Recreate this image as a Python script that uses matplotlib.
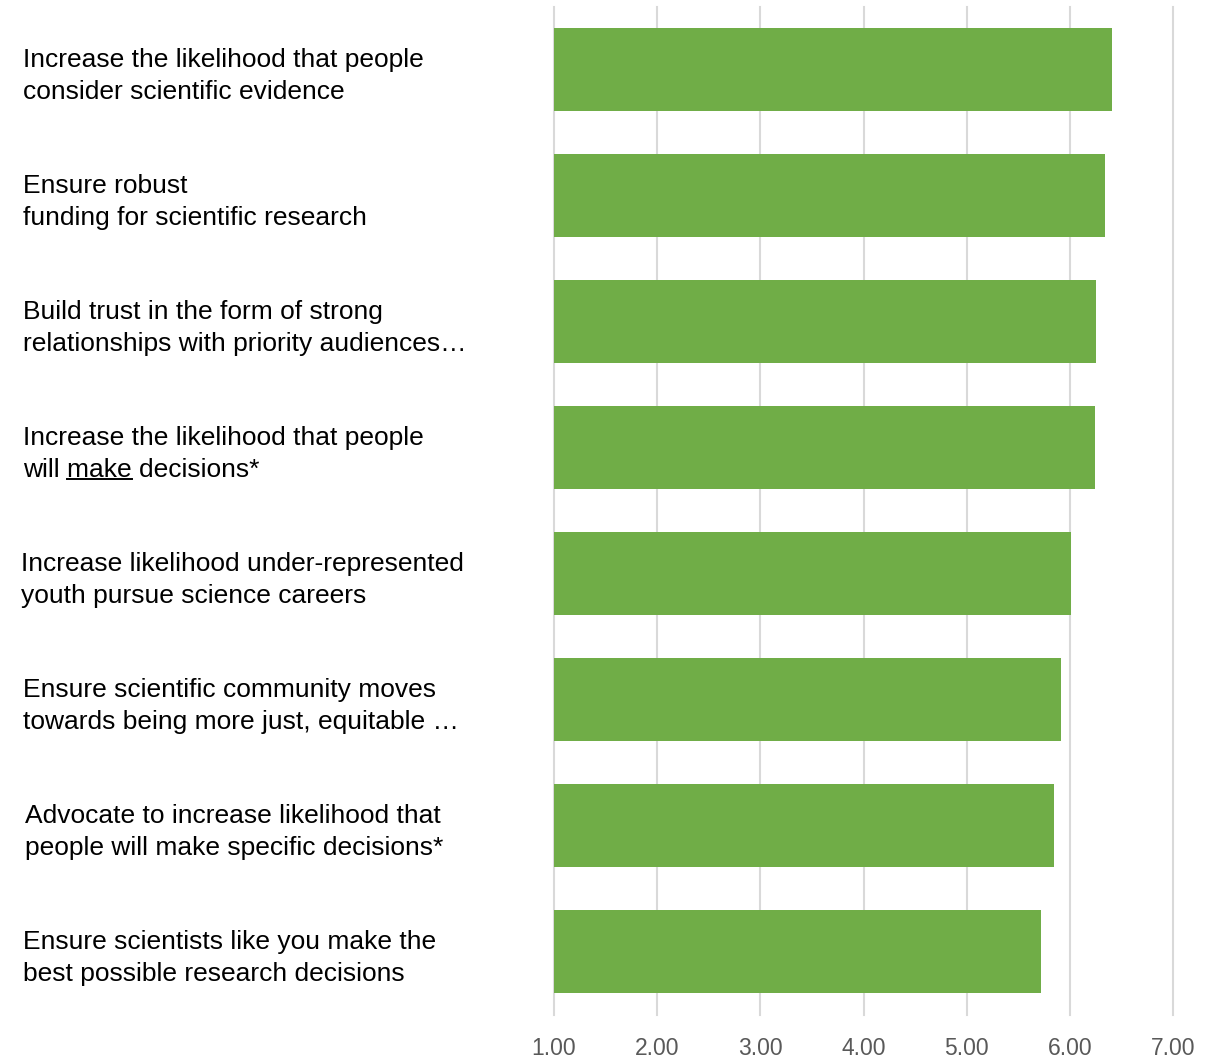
import matplotlib
matplotlib.use('Agg')
import matplotlib.pyplot as plt
from matplotlib.transforms import blended_transform_factory
from matplotlib.lines import Line2D

labels = [
    "Increase the likelihood that people\nconsider scientific evidence",
    "Ensure robust\nfunding for scientific research",
    "Build trust in the form of strong\nrelationships with priority audiences\u2026",
    "Increase the likelihood that people\nwill make decisions*",
    "Increase likelihood under-represented\nyouth pursue science careers",
    "Ensure scientific community moves\ntowards being more just, equitable \u2026",
    "Advocate to increase likelihood that\npeople will make specific decisions*",
    "Ensure scientists like you make the\nbest possible research decisions",
]
values = [6.41, 6.34, 6.25, 6.24, 6.01, 5.91, 5.85, 5.72]
label_x = [23, 23, 23, 23, 21, 23, 25, 23]   # left edge in pixels
xticks = [1, 2, 3, 4, 5, 6, 7]

W, H = 1216, 1059
fig = plt.figure(figsize=(W / 100, H / 100), dpi=100)
ax = fig.add_axes([554 / W, 1 - 1014.5 / H, (1173 - 554) / W, (1014.5 - 6.5) / H])

pos = list(range(len(values)))
ax.barh(pos, [v - 1 for v in values], left=1, height=0.66, color='#70AD47', zorder=3)
ax.set_xlim(1, 7)
ax.set_ylim(len(values) - 0.5, -0.5)
ax.set_xticks(xticks)
ax.set_xticklabels(['%.2f' % t for t in xticks],
                   family=['Liberation Sans Narrow', 'Liberation Sans'],
                   fontsize=16.5, color='#595959')
ax.tick_params(axis='x', length=0, pad=16)
ax.set_yticks([])
for s in ax.spines.values():
    s.set_visible(False)
ax.grid(axis='x', color='#D9D9D9', linewidth=1.5, zorder=0)
for gl in ax.get_xgridlines():
    gl.set_clip_on(False)

trans = blended_transform_factory(fig.transFigure, ax.transData)
font = dict(family=['Liberation Sans', 'DejaVu Sans'], fontsize=19, color='black')
texts = []
for i, (lab, lx) in enumerate(zip(labels, label_x)):
    t = ax.text(lx / W, i + 0.05, lab, transform=trans, ha='left', va='center',
                linespacing=1.4, **font)
    texts.append(t)

# underline "make" in the fourth label
fig.canvas.draw()
r = fig.canvas.get_renderer()
t4 = texts[3]
bb = t4.get_window_extent(r)
tmp1 = fig.text(0, 0, "will make", **font)
tmp2 = fig.text(0, 0, "make", **font)
w1 = tmp1.get_window_extent(r).width
w2 = tmp2.get_window_extent(r).width
tmp1.remove()
tmp2.remove()
x0 = bb.x0 + w1 - w2
x1 = bb.x0 + w1
yline = bb.y0 + 3
fig.add_artist(Line2D([x0 / W, x1 / W], [yline / H, yline / H],
                      transform=fig.transFigure, color='black', linewidth=1.4))

fig.savefig('out.png', dpi=100)
